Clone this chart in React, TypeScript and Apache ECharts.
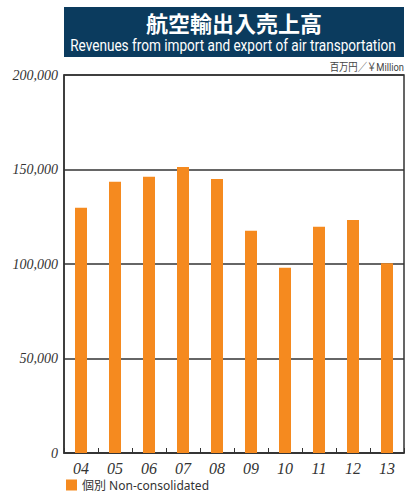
import React, { useEffect, useRef } from "react";
import * as echarts from "echarts";

const categories = ["04", "05", "06", "07", "08", "09", "10", "11", "12", "13"];
const revenues = [129800, 143500, 146200, 151300, 145000, 117600, 98000, 119700, 123300, 100400];
const yTicks = [0, 50000, 100000, 150000, 200000];
const seriesName = "個別 Non-consolidated";

export default function App() {
  const ref = useRef<HTMLDivElement>(null);
  useEffect(() => {
    if (!ref.current) return;
    const chart = echarts.init(ref.current, null, { renderer: "svg" });
    chart.setOption({
      animation: false,
      backgroundColor: "#ffffff",
      graphic: [
        { type: "rect", shape: { x: 64, y: 7, width: 340, height: 50 }, style: { fill: "#0b3b5e" } },
        {
          type: "text",
          x: 234,
          y: 22,
          style: {
            text: "航空輸出入売上高",
            fill: "#ffffff",
            font: 'bold 22px "Noto Sans CJK JP"',
            align: "center",
            verticalAlign: "middle",
          },
        },
        {
          type: "text",
          x: 233,
          y: 46,
          scaleX: 0.85,
          style: {
            text: "Revenues from import and export of air transportation",
            fill: "#ffffff",
            font: '16px Roboto, sans-serif',
            align: "center",
            verticalAlign: "middle",
          },
        },
        {
          type: "text",
          x: 404,
          y: 67,
          scaleX: 0.85,
          style: {
            text: "百万円／￥Million",
            fill: "#444",
            font: '11px Roboto, "Noto Sans CJK JP", sans-serif',
            align: "right",
            verticalAlign: "middle",
          },
        },
      ],
      legend: {
        left: 66,
        top: 479,
        padding: 0,
        icon: "rect",
        itemWidth: 11,
        itemHeight: 11,
        itemGap: 4,
        textStyle: { fontSize: 12, color: "#333", fontFamily: '"Noto Sans", "Noto Sans CJK JP", sans-serif' },
        data: [seriesName],
      },
      grid: {
        left: 64,
        right: 2,
        top: 75,
        bottom: 42,
        show: true,
        borderColor: "#333",
        borderWidth: 1.5,
        containLabel: false,
      },
      xAxis: {
        type: "category",
        data: categories,
        axisLine: { show: true, lineStyle: { color: "#333", width: 1.5 } },
        axisTick: { show: true, inside: true, length: 5, lineStyle: { color: "#333" } },
        axisLabel: {
          margin: 7,
          fontSize: 16,
          fontStyle: "italic",
          fontFamily: '"Liberation Serif", serif',
          color: "#333",
        },
      },
      yAxis: {
        type: "value",
        min: 0,
        max: 200000,
        interval: 50000,
        axisLine: { show: true, lineStyle: { color: "#333", width: 1.5 } },
        axisTick: { show: false },
        splitLine: { show: true, lineStyle: { color: "#333", width: 1.5 } },
        axisLabel: {
          margin: 6,
          fontSize: 14,
          fontStyle: "italic",
          fontFamily: '"Liberation Serif", serif',
          color: "#333",
          formatter: (v: number) => (yTicks.includes(v) ? v.toLocaleString("en-US") : ""),
        },
      },
      series: [
        {
          name: seriesName,
          type: "bar",
          data: revenues,
          barWidth: 12,
          itemStyle: { color: "#f58a1f" },
        },
      ],
    });
    return () => chart.dispose();
  }, []);
  return <div ref={ref} style={{ width: 406, height: 495, position: "absolute", left: 0, top: 0 }} />;
}
